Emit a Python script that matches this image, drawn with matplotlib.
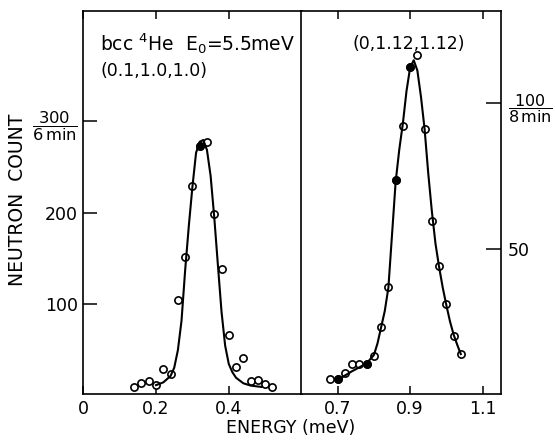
import numpy as np
import matplotlib.pyplot as plt

plt.rcParams['font.family'] = ['DejaVu Sans']
plt.rcParams['mathtext.fontset'] = 'dejavusans'

# left panel, (0.1, 1.0, 1.0), counts per 6 min
left_e = [0.14, 0.16, 0.18, 0.20, 0.22, 0.24, 0.26, 0.28, 0.30, 0.32,
          0.34, 0.36, 0.38, 0.40, 0.42, 0.44, 0.46, 0.48, 0.50, 0.52]
left_counts = [10, 14, 16, 12, 30, 24, 105, 151, 229, 272,
               277, 198, 138, 67, 32, 41, 17, 18, 13, 10]
left_filled = [9]

left_fit_e = [0.20, 0.22, 0.24, 0.25, 0.26, 0.27, 0.28, 0.29, 0.30, 0.31,
              0.32, 0.33, 0.34, 0.35, 0.36, 0.37, 0.38, 0.39, 0.40, 0.41,
              0.42, 0.44, 0.46, 0.49]
left_fit_counts = [12, 15, 22, 31, 50, 82, 137, 185, 228, 265,
                   277, 279, 268, 240, 195, 143, 92, 55, 35, 26,
                   20, 14, 11.5, 10]

# right panel, (0, 1.12, 1.12), counts per 8 min
right_e = [0.68, 0.70, 0.72, 0.74, 0.76, 0.78, 0.80, 0.82, 0.84, 0.86,
           0.88, 0.90, 0.92, 0.94, 0.96, 0.98, 1.00, 1.02, 1.04]
right_counts = [5.8, 5.8, 7.9, 10.9, 10.9, 11.1, 13.6, 23.6, 37.3, 73.6,
                92.2, 112.3, 116.3, 91, 59.7, 44.4, 31.3, 20.6, 14.3]
right_filled = [1, 5, 9, 11]

right_fit_e = [0.70, 0.72, 0.74, 0.76, 0.78, 0.80, 0.81, 0.82, 0.83, 0.84,
               0.85, 0.86, 0.87, 0.88, 0.89, 0.90, 0.91, 0.92, 0.93, 0.94,
               0.95, 0.96, 0.97, 0.98, 0.99, 1.00, 1.01, 1.02, 1.03, 1.04]
right_fit_counts = [5.5, 7.0, 8.5, 9.8, 11.2, 14.0, 18, 23.5, 29, 37,
                    55, 73, 84, 93, 104, 112, 114.5, 111, 102, 91,
                    76, 63, 52, 44, 37, 31, 25.5, 21, 17.5, 14.3]

fig = plt.figure(figsize=(5.55, 4.41), dpi=100)
ax1 = fig.add_axes([0.1501, 0.1059, 0.3932, 0.8692])
ax2 = fig.add_axes([0.5432, 0.1059, 0.3589, 0.8692])


def draw(ax, e, c, filled, fe, fc):
    e = np.array(e)
    c = np.array(c)
    ax.plot(e, c, 'o', mfc='white', mec='black', ms=5.2, mew=1.2, zorder=2)
    ax.plot(e[filled], c[filled], 'o', mfc='black', mec='black', ms=5.2, zorder=2)
    ax.plot(fe, fc, '-', color='black', lw=1.5, zorder=3)
    for s in ax.spines.values():
        s.set_linewidth(1.2)


draw(ax1, left_e, left_counts, left_filled, left_fit_e, left_fit_counts)
draw(ax2, right_e, right_counts, right_filled, right_fit_e, right_fit_counts)

ax1.set_xlim(0, 0.6)
ax1.set_ylim(2, 419.5)
ax1.set_xticks([0, 0.2, 0.4], ['0', '0.2', '0.4'])
ax1.set_yticks([100, 200, 300], ['100', '200', r'$\dfrac{300}{6\,\mathrm{min}}$'])
ax1.tick_params(axis='x', direction='in', top=True, length=6, width=1.1,
                labelsize=12.5, pad=4)
ax1.tick_params(axis='y', direction='in', right=False, length=10, width=1.1,
                labelsize=12.5, pad=4)
ax1.get_yticklabels()[2].set_fontsize(11.8)

ax2.set_xlim(0.6, 1.15)
ax2.set_ylim(0.6, 131.3)
ax2.set_xticks([0.7, 0.9, 1.1], ['0.7', '0.9', '1.1'])
ax2.yaxis.tick_right()
ax2.set_yticks([50, 100], ['50', r'$\dfrac{100}{8\,\mathrm{min}}$'])
ax2.tick_params(axis='x', direction='in', top=True, length=6, width=1.1,
                labelsize=12.5, pad=4)
ax2.tick_params(axis='y', direction='in', left=False, right=True, length=11,
                width=1.1, labelsize=12.5, pad=5)
ax2.get_yticklabels()[1].set_fontsize(11.5)

ax1.text(0.077, 0.915, r'bcc $^{4}$He  E$_{0}$=5.5meV', transform=ax1.transAxes,
         fontsize=13.5, ha='left', va='center')
ax1.text(0.077, 0.843, '(0.1,1.0,1.0)', transform=ax1.transAxes,
         fontsize=12.5, ha='left', va='center')
ax2.text(0.54, 0.915, '(0,1.12,1.12)', transform=ax2.transAxes,
         fontsize=12.5, ha='center', va='center')

fig.text(0.524, 0.03, 'ENERGY (meV)', fontsize=12.5, ha='center', va='center')
fig.text(0.032, 0.5465, 'NEUTRON  COUNT', fontsize=13.5, rotation=90,
         ha='center', va='center')

fig.savefig('out.png', dpi=100)
